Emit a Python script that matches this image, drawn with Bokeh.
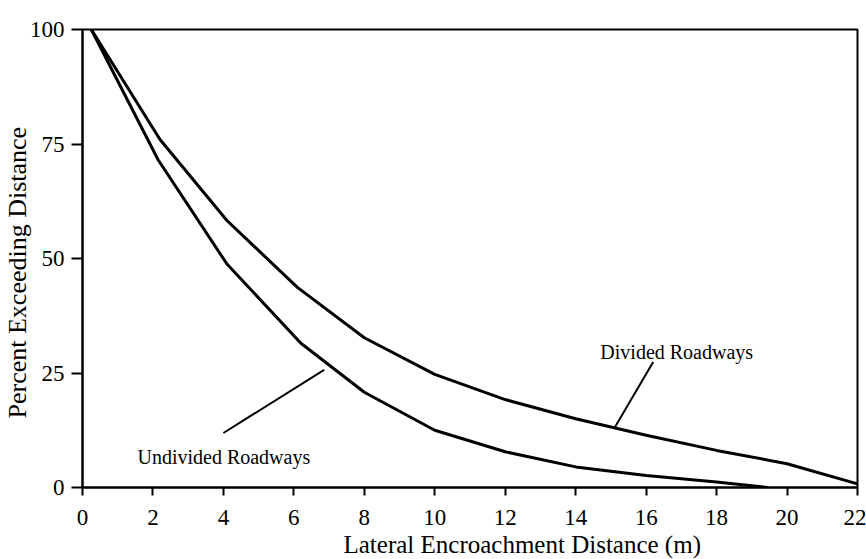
from bokeh.plotting import figure
from bokeh.models import Range1d, Label, FixedTicker, Title
from bokeh.embed import file_html
from bokeh.resources import INLINE

# Cumulative lateral encroachment distributions (percent of encroachments
# exceeding a given lateral distance)
divided_x = [0.25, 2.2, 4.1, 6.1, 8.0, 10.0, 12.0, 14.0, 16.0, 18.0, 20.0, 22.0]
divided_pct = [100, 76.0, 58.3, 43.7, 32.7, 24.7, 19.2, 15.0, 11.4, 8.1, 5.2, 0.8]

undivided_x = [0.25, 2.15, 4.1, 6.2, 8.0, 10.0, 12.0, 14.0, 16.0, 18.0, 19.45]
undivided_pct = [100, 71.5, 48.8, 31.5, 20.8, 12.5, 7.8, 4.5, 2.6, 1.2, 0]

x_ticks = [0, 2, 4, 6, 8, 10, 12, 14, 16, 18, 20, 22]
y_ticks = [0, 25, 50, 75, 100]

# Curve labels with leader lines (label anchor, line start, line end)
label_names = ["Divided Roadways", "Undivided Roadways"]
label_x = [14.7, 1.56]
label_y = [29.5, 6.6]
leader_x0 = [16.2, 4.0]
leader_y0 = [27.4, 11.9]
leader_x1 = [15.1, 6.86]
leader_y1 = [13.0, 25.7]

x_title = "Lateral Encroachment Distance (m)"
y_title = "Percent Exceeding Distance"

SERIF = "Liberation Serif"

p = figure(
    width=866, height=559,
    x_range=Range1d(0, 22), y_range=Range1d(0, 100),
    output_backend="svg", toolbar_location=None,
    min_border_left=82, min_border_right=9,
    min_border_top=29, min_border_bottom=72,
)
p.background_fill_color = "white"
p.border_fill_color = "white"
p.outline_line_color = "black"
p.outline_line_width = 2
p.xgrid.visible = False
p.ygrid.visible = False

for ax in (p.xaxis[0], p.yaxis[0]):
    ax.axis_line_width = 2
    ax.axis_line_color = "black"
    ax.major_tick_line_width = 2
    ax.major_tick_line_color = "black"
    ax.major_tick_in = 0
    ax.minor_tick_line_color = None
    ax.major_label_text_font = SERIF
    ax.major_label_text_font_size = "23px"
    ax.major_label_text_color = "black"

p.xaxis.ticker = FixedTicker(ticks=x_ticks)
p.yaxis.ticker = FixedTicker(ticks=y_ticks)
p.xaxis.major_tick_out = 8
p.yaxis.major_tick_out = 11
p.xaxis.major_label_standoff = 14
p.yaxis.major_label_standoff = 7

# Axis titles as side titles, so they can be offset along the frame
p.add_layout(Title(text=x_title, text_font=SERIF, text_font_size="25px",
                   text_font_style="normal", text_color="black",
                   align="left", offset=261, standoff=3), "below")
p.add_layout(Title(text=y_title, text_font=SERIF, text_font_size="26px",
                   text_font_style="normal", text_color="black",
                   align="left", offset=69, standoff=-11), "left")

p.line(divided_x, divided_pct, line_color="black", line_width=3)
p.line(undivided_x, undivided_pct, line_color="black", line_width=3)

p.segment(x0=leader_x0, y0=leader_y0, x1=leader_x1, y1=leader_y1,
          line_color="black", line_width=2)

for name, lx, ly in zip(label_names, label_x, label_y):
    p.add_layout(Label(x=lx, y=ly, text=name, text_font=SERIF,
                       text_font_size="20px", text_color="black",
                       text_baseline="alphabetic", text_align="left"))

open("out.html", "w").write(file_html(p, INLINE))
